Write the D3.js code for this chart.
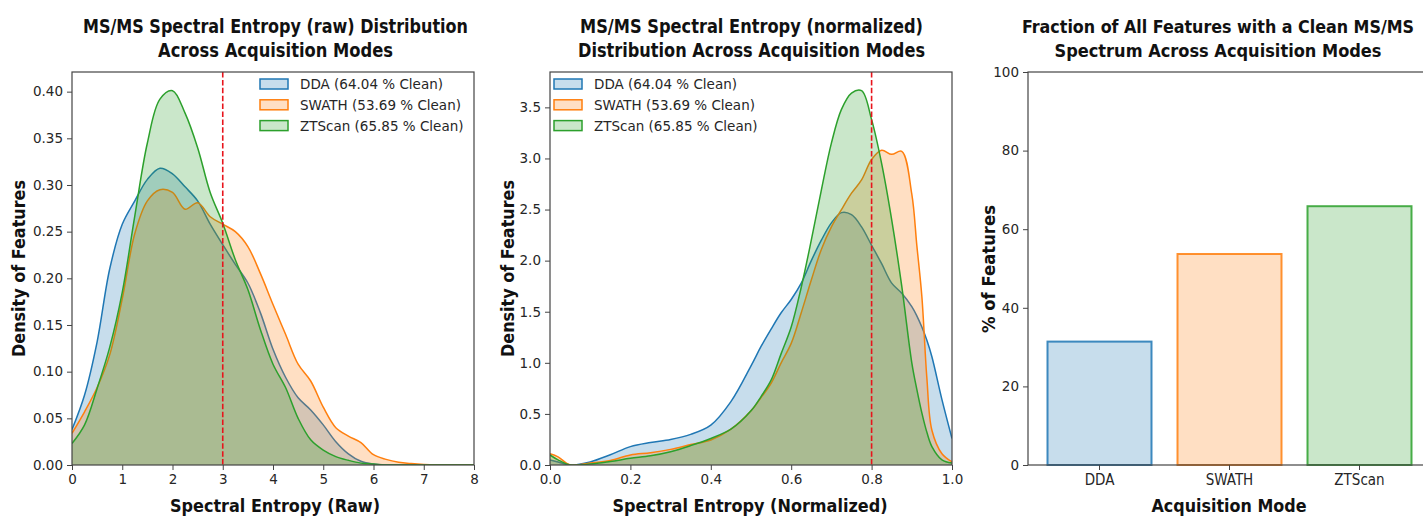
<!DOCTYPE html>
<html>
<head>
<meta charset="utf-8">
<script src="https://cdn.jsdelivr.net/npm/d3@7"></script>
<style>
  body { margin: 0; background: #fff; }
  svg text { font-family: "DejaVu Sans", sans-serif; fill: #262626; }
</style>
</head>
<body>
<div class="canvas"></div>
<script>
// ---- data ----
const modes = ['DDA', 'SWATH', 'ZTScan'];
const cleanPct = [64.04, 53.69, 65.85];
const colors = ['#1f77b4', '#ff7f0e', '#2ca02c'];

// raw spectral entropy densities
const rawX = [0, 0.25, 0.5, 0.75, 1, 1.25, 1.5, 1.75, 2, 2.25, 2.5, 2.75, 3, 3.25, 3.5, 3.75, 4,
  4.25, 4.5, 4.75, 5, 5.25, 5.5, 5.75, 6, 6.25, 6.5, 6.75, 7, 7.25, 7.5, 7.75, 8];
const rawDDA = [0.038, 0.075, 0.132, 0.21, 0.258, 0.283, 0.306, 0.318, 0.312, 0.298, 0.283, 0.258, 0.236,
  0.215, 0.195, 0.163, 0.124, 0.094, 0.072, 0.059, 0.043, 0.025, 0.012, 0.004, 0.001, 0, 0, 0, 0, 0, 0, 0, 0];
const rawSWATH = [0.034, 0.057, 0.083, 0.118, 0.178, 0.248, 0.283, 0.295, 0.292, 0.274, 0.281, 0.266, 0.258,
  0.25, 0.234, 0.205, 0.172, 0.14, 0.108, 0.09, 0.062, 0.04, 0.031, 0.024, 0.011, 0.006, 0.003, 0.0015, 0.0005, 0, 0, 0, 0];
const rawZTScan = [0.023, 0.043, 0.082, 0.126, 0.185, 0.267, 0.345, 0.392, 0.401, 0.377, 0.34, 0.292, 0.259,
  0.22, 0.188, 0.145, 0.108, 0.083, 0.05, 0.027, 0.016, 0.009, 0.005, 0.002, 0.001, 0, 0, 0, 0, 0, 0, 0, 0];

// normalized spectral entropy densities
const normX = [0, 0.02, 0.05, 0.1, 0.15, 0.2, 0.25, 0.3, 0.35, 0.4, 0.45, 0.5, 0.525, 0.55, 0.575, 0.6,
  0.625, 0.65, 0.675, 0.7, 0.725, 0.75, 0.775, 0.8, 0.825, 0.85, 0.875, 0.9, 0.9125, 0.925, 0.9375, 0.95, 0.975, 1];
const normDDA = [0.05, 0.03, 0, 0.03, 0.1, 0.18, 0.22, 0.25, 0.3, 0.39, 0.62, 0.97, 1.16, 1.33, 1.49, 1.62,
  1.78, 2.0, 2.2, 2.37, 2.47, 2.45, 2.33, 2.15, 1.97, 1.78, 1.68, 1.55, 1.46, 1.35, 1.22, 1.06, 0.64, 0.26];
const normSWATH = [0.11, 0.08, 0, 0.02, 0.045, 0.098, 0.12, 0.153, 0.2, 0.245, 0.35, 0.53, 0.66, 0.8, 1.0, 1.19,
  1.49, 1.81, 2.11, 2.33, 2.5, 2.66, 2.79, 2.99, 3.08, 3.04, 3.07, 2.65, 2.15, 1.65, 0.85, 0.34, 0.11, 0.03];
const normZTScan = [0.098, 0.05, 0, 0.01, 0.035, 0.065, 0.09, 0.13, 0.19, 0.26, 0.35, 0.53, 0.67, 0.83, 1.09, 1.35,
  1.74, 2.2, 2.69, 3.15, 3.48, 3.64, 3.663, 3.38, 2.95, 2.4, 1.75, 1.0, 0.74, 0.51, 0.32, 0.18, 0.05, 0.02];

// fraction of features with a clean spectrum (%)
const barValues = [31.4, 53.69, 65.85];

// tick labels
const rawXTicks = [0, 1, 2, 3, 4, 5, 6, 7, 8];
const rawYTicks = [0, 0.05, 0.1, 0.15, 0.2, 0.25, 0.3, 0.35, 0.4];
const normXTicks = [0, 0.2, 0.4, 0.6, 0.8, 1.0];
const normYTicks = [0, 0.5, 1, 1.5, 2, 2.5, 3, 3.5];
const barYTicks = [0, 20, 40, 60, 80, 100];

// ---- layout ----
const condensed = '"Liberation Sans Narrow", "DejaVu Sans Condensed", sans-serif';
const plotTop = 72, plotHeight = 393;
const spineColor = '#444';

const svg = d3.select('.canvas')
  .append('svg')
  .attr('width', 1423)
  .attr('height', 518);

// title helper (two lines, condensed bold)
const addTitle = (cx, lines, widths, size = 20) => {
  lines.forEach((t, i) => {
    svg.append('text')
      .attr('x', cx).attr('y', 33 + i * 24)
      .attr('text-anchor', 'middle')
      .attr('textLength', widths[i]).attr('lengthAdjust', 'spacingAndGlyphs')
      .style('font-family', condensed).style('font-weight', 'bold').style('font-size', size + 'px')
      .style('fill', '#111')
      .text(t);
  });
};

const addXLabel = (cx, t, w) => {
  svg.append('text')
    .attr('x', cx).attr('y', 512)
    .attr('text-anchor', 'middle')
    .attr('textLength', w).attr('lengthAdjust', 'spacingAndGlyphs')
    .style('font-family', condensed).style('font-weight', 'bold').style('font-size', '18px')
    .style('fill', '#111')
    .text(t);
};

const addYLabel = (bx, cy, t, w) => {
  svg.append('text')
    .attr('transform', `translate(${bx},${cy}) rotate(-90)`)
    .attr('text-anchor', 'middle')
    .attr('textLength', w).attr('lengthAdjust', 'spacingAndGlyphs')
    .style('font-family', condensed).style('font-weight', 'bold').style('font-size', '18px')
    .style('fill', '#111')
    .text(t);
};

const styleAxis = (g) => {
  g.select('.domain').remove();
  g.selectAll('.tick line').attr('stroke', spineColor).attr('stroke-width', 1);
  g.selectAll('.tick text').style('font-size', '13.5px').style('fill', '#262626');
};

// KDE panel
const drawKde = (left, width, xs, series, xTicks, yTicks, xFmt, yFmt, threshold, legendX, id) => {
  const graph = svg.append('g').attr('transform', `translate(${left}, ${plotTop})`);

  const x = d3.scaleLinear().domain([xTicks[0], xTicks[xTicks.length - 1]]).range([0, width]);
  const yMax = d3.max(series.map(s => d3.max(s))) * 1.05;
  const y = d3.scaleLinear().domain([0, yMax]).range([plotHeight, 0]);

  svg.append('clipPath').attr('id', id)
    .append('rect').attr('width', width).attr('height', plotHeight);

  const plot = graph.append('g').attr('clip-path', `url(#${id})`);

  const area = d3.area()
    .x((d, i) => x(xs[i]))
    .y0(plotHeight)
    .y1(d => y(d))
    .curve(d3.curveCatmullRom.alpha(0.5));
  const line = d3.line()
    .x((d, i) => x(xs[i]))
    .y(d => y(d))
    .curve(d3.curveCatmullRom.alpha(0.5));

  series.forEach((s, k) => {
    plot.append('path').attr('d', area(s))
      .attr('fill', colors[k]).attr('fill-opacity', 0.25);
    plot.append('path').attr('d', line(s))
      .attr('fill', 'none').attr('stroke', colors[k]).attr('stroke-width', 1.5);
  });

  // threshold line
  plot.append('line')
    .attr('x1', x(threshold)).attr('x2', x(threshold))
    .attr('y1', 0).attr('y2', plotHeight)
    .attr('stroke', '#e8141c').attr('stroke-width', 1.6)
    .attr('stroke-dasharray', '5.5,2.4');

  // axes
  const xAxis = d3.axisBottom(x).tickValues(xTicks).tickFormat(xFmt).tickSize(5).tickPadding(4).tickSizeOuter(0);
  const yAxis = d3.axisLeft(y).tickValues(yTicks).tickFormat(yFmt).tickSize(5).tickPadding(4).tickSizeOuter(0);
  graph.append('g').attr('transform', `translate(0, ${plotHeight})`).call(xAxis).call(styleAxis);
  graph.append('g').call(yAxis).call(styleAxis);

  // frame
  graph.append('rect').attr('width', width).attr('height', plotHeight)
    .attr('fill', 'none').attr('stroke', spineColor).attr('stroke-width', 1.2);

  // legend
  const legend = svg.append('g').attr('transform', `translate(${legendX}, 84)`);
  modes.forEach((m, k) => {
    const row = legend.append('g').attr('transform', `translate(0, ${k * 20.8})`);
    row.append('rect').attr('x', 0).attr('y', -5).attr('width', 28).attr('height', 10)
      .attr('fill', colors[k]).attr('fill-opacity', 0.25)
      .attr('stroke', colors[k]).attr('stroke-width', 1.5);
    row.append('text').attr('x', 40).attr('y', 5)
      .style('font-size', '13.5px')
      .text(`${m} (${cleanPct[k].toFixed(2)} % Clean)`);
  });
};

// ---- panel 1: raw ----
drawKde(72, 402, rawX, [rawDDA, rawSWATH, rawZTScan], rawXTicks, rawYTicks,
  d3.format('d'), d3.format('.2f'), 3, 260, 'clip-raw');
addTitle(275.5, ['MS/MS Spectral Entropy (raw) Distribution', 'Across Acquisition Modes'], [385, 235]);
addXLabel(275, 'Spectral Entropy (Raw)', 210);
addYLabel(25, 268.5, 'Density of Features', 177);

// ---- panel 2: normalized ----
drawKde(550, 402, normX, [normDDA, normSWATH, normZTScan], normXTicks, normYTicks,
  d3.format('.1f'), d3.format('.1f'), 0.8, 554, 'clip-norm');
addTitle(751.5, ['MS/MS Spectral Entropy (normalized)', 'Distribution Across Acquisition Modes'], [343, 347]);
addXLabel(750, 'Spectral Entropy (Normalized)', 275);
addYLabel(514, 268.5, 'Density of Features', 177);

// ---- panel 3: bar chart ----
const barLeft = 1028, barWidth = 403;
const bars = svg.append('g').attr('transform', `translate(${barLeft}, ${plotTop})`);

const xBand = d3.scaleBand().domain(modes).range([0, barWidth]).paddingInner(0.2).paddingOuter(0.15);
const yBar = d3.scaleLinear().domain([0, 100]).range([plotHeight, 0]);

bars.selectAll('rect.bar')
  .data(barValues)
  .enter()
  .append('rect')
  .attr('class', 'bar')
  .attr('x', (d, i) => xBand(modes[i]))
  .attr('y', d => yBar(d))
  .attr('width', xBand.bandwidth())
  .attr('height', d => plotHeight - yBar(d))
  .attr('fill', (d, i) => colors[i]).attr('fill-opacity', 0.25)
  .attr('stroke', (d, i) => colors[i]).attr('stroke-opacity', 0.85).attr('stroke-width', 2);

const xBarAxis = d3.axisBottom(xBand).tickSize(5).tickPadding(4).tickSizeOuter(0);
const yBarAxis = d3.axisLeft(yBar).tickValues(barYTicks).tickSize(5).tickPadding(4).tickSizeOuter(0);
bars.append('g').attr('transform', `translate(0, ${plotHeight})`).call(xBarAxis).call(styleAxis)
  .selectAll('.tick text').style('font-family', condensed).style('font-size', '15px');
bars.append('g').call(yBarAxis).call(styleAxis);

// spines: left, top, bottom (right one falls outside the picture)
bars.append('rect').attr('width', barWidth).attr('height', plotHeight)
  .attr('fill', 'none').attr('stroke', spineColor).attr('stroke-width', 1.2);

addTitle(1218, ['Fraction of All Features with a Clean MS/MS', 'Spectrum Across Acquisition Modes'], [392, 327], 18);
addXLabel(1229, 'Acquisition Mode', 155);
addYLabel(995, 269, '% of Features', 128);
</script>
</body>
</html>
